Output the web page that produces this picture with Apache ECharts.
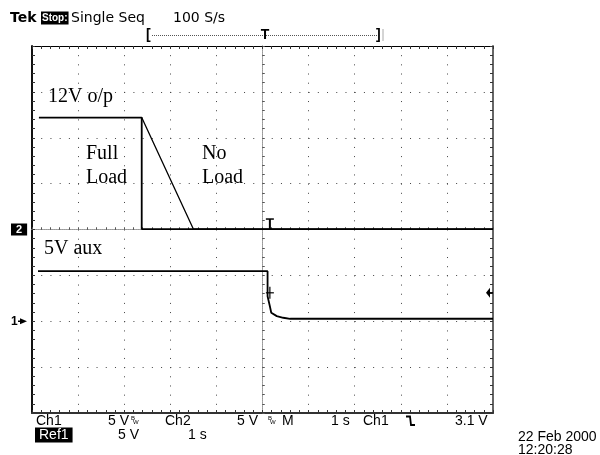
<!DOCTYPE html>
<html><head><meta charset="utf-8">
<script src="https://cdn.jsdelivr.net/npm/echarts@6/dist/echarts.min.js"></script>
<style>html,body{margin:0;padding:0;background:#fff}#c{width:600px;height:455px}</style>
</head><body><div id="c"></div>
<script>
// ---- data ----
const voltsPerDiv = 5;            // Ch1 / Ch2 : 5 V/div
const ch2OffsetDiv = 0;           // Ch2 ground marker at centre
const ch1OffsetDiv = -2;          // Ch1 ground marker two divisions below centre
const timeMin = -5, timeMax = 5;  // 1 s/div, 10 divisions
const divMin = -4, divMax = 4;    // 8 vertical divisions
// 12 V output, full load (seconds, volts)
const fullLoadT = [-4.85, -2.62, -2.62, 5.0];
const fullLoadV = [12.2, 12.2, 0.05, 0.05];
// 12 V output, no load
const noLoadT = [-2.62, -1.50, 5.0];
const noLoadV = [12.2, 0.05, 0.05];
// 5 V aux
const auxT = [-4.87, 0.11, 0.11, 0.16, 0.19, 0.31, 0.45, 0.60, 5.0];
const auxV = [5.46, 5.46, 2.73, 1.64, 0.93, 0.56, 0.38, 0.27, 0.27];
// trigger
const triggerTime = 0.16;
const triggerLevel = 3.1;

const toDiv = (v, off) => v / voltsPerDiv + off;
const pts = (T, V, off) => T.map((t, i) => [t, toDiv(V[i], off)]);

const chart = echarts.init(document.getElementById('c'), null, {renderer: 'canvas'});

function borderAxis(kind, pos, color, width) {
  const isX = kind === 'x';
  return {
    type: 'value', min: isX ? timeMin : divMin, max: isX ? timeMax : divMax, interval: 1,
    position: pos,
    axisLine: {show: true, onZero: false, lineStyle: {color: color, width: width}},
    axisTick: {show: true, inside: true, length: 3, lineStyle: {color: '#333', width: 1}},
    minorTick: {show: true, splitNumber: 5, length: 3, lineStyle: {color: '#333', width: 1}},
    axisLabel: {show: false}, splitLine: {show: false}, minorSplitLine: {show: false}
  };
}
function centreAxis(kind, pos, inside) {
  const isX = kind === 'x';
  return {
    type: 'value', min: isX ? timeMin : divMin, max: isX ? timeMax : divMax, interval: 1,
    position: pos,
    axisLine: {show: true, onZero: true, onZeroAxisIndex: 0, lineStyle: {color: '#999', width: 1, type: [1, 1]}},
    axisTick: {show: true, inside: inside, length: 2, lineStyle: {color: '#555', width: 1}},
    minorTick: {show: true, splitNumber: 5, length: 2, lineStyle: {color: '#555', width: 1}},
    axisLabel: {show: false}, splitLine: {show: false}
  };
}

const xMain = borderAxis('x', 'bottom', '#333', 2);
xMain.splitLine = {show: true, lineStyle: {color: '#444', width: 1, type: [1, 8.175]}};
const yMain = borderAxis('y', 'left', '#111', 2);
yMain.splitLine = {show: true, lineStyle: {color: '#444', width: 1, type: [1, 8.22]}};

const lineStyle = {color: '#000', width: 1.8};
const option = {
  animation: false,
  backgroundColor: '#fff',
  grid: {left: 32, top: 46, width: 461, height: 367, show: false},
  xAxis: [xMain, borderAxis('x', 'top', '#000', 1), centreAxis('x', 'bottom', true), centreAxis('x', 'top', false)],
  yAxis: [yMain, borderAxis('y', 'right', '#666', 2), centreAxis('y', 'left', true), centreAxis('y', 'right', false)],
  series: [
    {name: '12V o/p Full Load', type: 'line', xAxisIndex: 0, yAxisIndex: 0, showSymbol: false, symbol: 'none',
     data: pts(fullLoadT, fullLoadV, ch2OffsetDiv), lineStyle: lineStyle, z: 5},
    {name: '12V o/p No Load', type: 'line', xAxisIndex: 0, yAxisIndex: 0, showSymbol: false, symbol: 'none',
     data: pts(noLoadT, noLoadV, ch2OffsetDiv), lineStyle: {color: '#000', width: 1.3}, z: 5},
    {name: '5V aux', type: 'line', xAxisIndex: 0, yAxisIndex: 0, showSymbol: false, symbol: 'none',
     data: pts(auxT, auxV, ch1OffsetDiv), lineStyle: lineStyle, z: 5}
  ]
};
chart.setOption(option);

const px = (t, d) => chart.convertToPixel({xAxisIndex: 0, yAxisIndex: 0}, [t, d]);
const ui = '"Liberation Sans", Arial, sans-serif';
const dv = '"DejaVu Sans", sans-serif';
const serif = '"Liberation Serif", "Times New Roman", serif';
function txt(s, x, y, size, opts) {
  opts = opts || {};
  return {type: 'text', x: x, y: y, z: 20, silent: true,
    style: Object.assign({text: s, font: (opts.weight || 'normal') + ' ' + size + 'px ' + (opts.family || ui),
      fill: opts.fill || '#000', align: opts.align || 'left', verticalAlign: 'middle'},
      opts.bg ? {backgroundColor: opts.bg, padding: opts.padding || [1, 3, 0, 3]} : {})};
}

const g = [];
// header
g.push(txt('Tek', 10, 18, 14, {weight: 'bold', family: dv}));
g.push(txt('Stop:', 41, 18, 10, {weight: 'bold', fill: '#fff', bg: '#000', padding: [2, 1, 1, 1]}));
g.push(txt('Single Seq', 71, 18, 14, {family: dv}));
g.push(txt('100 S/s', 173, 18, 14, {family: dv}));
// record bar
g.push(txt('[', 146, 35, 14, {weight: 'bold'}));
g.push({type: 'line', z: 20, shape: {x1: 152, y1: 35.5, x2: 377, y2: 35.5}, style: {stroke: '#555', lineWidth: 1, lineDash: [1, 1]}});
g.push(txt('T', 265, 35, 14, {weight: 'bold', align: 'center'}));
g.push(txt(']', 376, 35, 14, {weight: 'bold'}));
g.push({type: 'line', z: 20, shape: {x1: 383, y1: 29, x2: 383, y2: 41}, style: {stroke: '#aaa', lineWidth: 1}});

// annotations
g.push(txt('12V o/p', 48, 97, 20, {family: serif}));
g.push(txt('Full', 86, 154, 20, {family: serif}));
g.push(txt('Load', 86, 178, 20, {family: serif}));
g.push(txt('No', 202, 154, 20, {family: serif}));
g.push(txt('Load', 202, 178, 20, {family: serif}));
g.push(txt('5V aux', 44, 249, 20, {family: serif}));

// ground markers
const p2 = px(timeMin, ch2OffsetDiv);
g.push(txt('2', 11, p2[1], 11, {weight: 'bold', fill: '#fff', bg: '#000', padding: [1, 5, 0, 5]}));
const p1 = px(timeMin, ch1OffsetDiv);
g.push(txt('1', 11, p1[1], 12, {weight: 'bold'}));
g.push({type: 'polygon', z: 20, shape: {points: [[20, p1[1] - 3], [27, p1[1]], [20, p1[1] + 3]]}, style: {fill: '#000'}});
g.push({type: 'line', z: 20, shape: {x1: 18, y1: p1[1], x2: 22, y2: p1[1]}, style: {stroke: '#000', lineWidth: 1.5}});

// trigger level arrow on the right
const pl = px(timeMax, toDiv(triggerLevel, ch1OffsetDiv));
g.push({type: 'polygon', z: 20, shape: {points: [[pl[0] - 7, pl[1]], [pl[0] - 3, pl[1] - 5], [pl[0] - 3, pl[1] + 5]]}, style: {fill: '#000'}});
g.push({type: 'line', z: 20, shape: {x1: pl[0] - 4, y1: pl[1], x2: pl[0], y2: pl[1]}, style: {stroke: '#000', lineWidth: 1.5}});

// trigger "T" marker on Ch2 trace
const pt = px(triggerTime, toDiv(0.05, ch2OffsetDiv));
g.push({type: 'polyline', z: 20, shape: {points: [[pt[0], pt[1]], [pt[0], pt[1] - 10]]}, style: {stroke: '#000', lineWidth: 2, fill: null}});
g.push({type: 'line', z: 20, shape: {x1: pt[0] - 4, y1: pt[1] - 10, x2: pt[0] + 4, y2: pt[1] - 10}, style: {stroke: '#000', lineWidth: 1.5}});
// trigger crosshair on Ch1
const pc = px(triggerTime, toDiv(triggerLevel, ch1OffsetDiv));
g.push({type: 'line', z: 20, shape: {x1: pc[0] - 4, y1: pc[1], x2: pc[0] + 4, y2: pc[1]}, style: {stroke: '#000', lineWidth: 1.2}});
g.push({type: 'line', z: 20, shape: {x1: pc[0], y1: pc[1] - 6, x2: pc[0], y2: pc[1] + 6}, style: {stroke: '#000', lineWidth: 1.2}});

// footer
const r1 = 421, r2 = 435;
g.push(txt('Ch1', 36, r1, 14));
g.push(txt('5 V', 108, r1, 14));
g.push(txt('B', 131, r1 - 3, 6));
g.push(txt('W', 133, r1 + 1, 6));
g.push(txt('Ch2', 165, r1, 14));
g.push(txt('5 V', 237, r1, 14));
g.push(txt('B', 268, r1 - 3, 6));
g.push(txt('W', 270, r1 + 1, 6));
g.push(txt('M', 282, r1, 14));
g.push(txt('1 s', 331, r1, 14));
g.push(txt('Ch1', 363, r1, 14));
g.push({type: 'polyline', z: 20, shape: {points: [[406, 416.5], [410, 416.5], [411, 425], [415, 425]]}, style: {stroke: '#000', lineWidth: 1.8, fill: null}});
g.push(txt('3.1 V', 455, r1, 14));
g.push(txt('Ref1', 35, r2, 14, {fill: '#fff', bg: '#000', padding: [1, 4, 0, 4]}));
g.push(txt('5 V', 118, r2, 14));
g.push(txt('1 s', 188, r2, 14));
g.push(txt('22 Feb 2000', 518, 437, 14));
g.push(txt('12:20:28', 518, 450, 14));

chart.setOption({graphic: g});
</script></body></html>
